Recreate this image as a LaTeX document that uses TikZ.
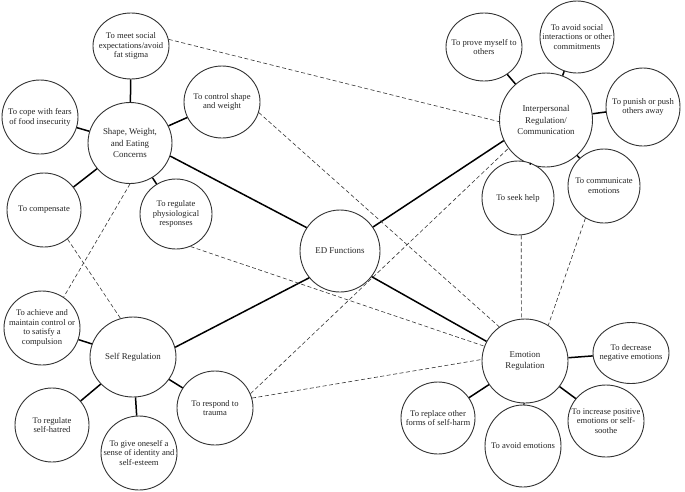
\documentclass[tikz,border=0pt]{standalone}
\usepackage{fontspec}
\setmainfont{Liberation Serif}
\usetikzlibrary{shapes.geometric}
\begin{document}
\begin{tikzpicture}[x=1pt,y=-1pt,
  bub/.style={ellipse, draw=black!80, line width=0.9pt, inner sep=0pt, fill=white},
  lbl/.style={font=\fontsize{8.6}{9.8}\selectfont, align=center, inner sep=0pt, text=black!85},
  hlbl/.style={font=\fontsize{8.9}{11.2}\selectfont, align=center, inner sep=0pt, text=black!85},
  spoke/.style={line width=1.5pt, black},
  dsh/.style={line width=0.6pt, black!80, dash pattern=on 4pt off 2.5pt}]
\useasboundingbox (0,0) rectangle (685,491);
% hubs
\node[bub, minimum width=84, minimum height=81, label={[hlbl]center:{Shape, Weight,\\and Eating\\Concerns}}] (SWE) at (130,143) {};
\node[bub, minimum width=80, minimum height=82, label={[hlbl]center:{ED Functions}}] (ED) at (340,251) {};
\node[bub, minimum width=93, minimum height=94, label={[hlbl]center:{Interpersonal\\Regulation/\\Communication}}] (IRC) at (546,120) {};
\node[bub, minimum width=86, minimum height=84, label={[hlbl]center:{Emotion\\Regulation}}] (ER) at (525,361) {};
\node[bub, minimum width=86, minimum height=80, label={[hlbl]center:{Self Regulation}}] (SR) at (133,357) {};
% leaves SWE
\node[bub, minimum width=76, minimum height=66, label={[lbl]center:{To meet social\\expectations/avoid\\fat stigma}}] (meet) at (131,46) {};
\node[bub, minimum width=76, minimum height=74, label={[lbl]center:{To cope with fears\\of food insecurity}}] (cope) at (40,117) {};
\node[bub, minimum width=76, minimum height=72, label={[lbl]center:{To control shape\\and weight}}] (control) at (222,102) {};
\node[bub, minimum width=74, minimum height=74, label={[lbl]center:{To compensate}}] (comp) at (44,210) {};
\node[bub, minimum width=72, minimum height=70, label={[lbl]center:{To regulate\\physiological\\responses}}] (physio) at (176,214) {};
% leaves IRC
\node[bub, minimum width=76, minimum height=68, label={[lbl]center:{To prove myself to\\others}}] (prove) at (484,47) {};
\node[bub, minimum width=74, minimum height=72, label={[lbl]center:{To avoid social\\interactions or other\\commitments}}] (avoidsoc) at (577,37) {};
\node[bub, minimum width=74, minimum height=78, label={[lbl]center:{To punish or push\\others away}}] (punish) at (643,107) {};
\node[bub, minimum width=72, minimum height=74, label={[lbl]center:{To seek help}}] (seek) at (518,198) {};
\node[bub, minimum width=72, minimum height=74, label={[lbl]center:{To communicate\\emotions}}] (commun) at (604,186) {};
% leaves ER
\node[bub, minimum width=76, minimum height=61, label={[lbl]center:{To decrease\\negative emotions}}] (decr) at (631,353) {};
\node[bub, minimum width=76, minimum height=72, label={[lbl]center:{To increase positive\\emotions or self-\\soothe}}] (incr) at (606,421) {};
\node[bub, minimum width=76, minimum height=82, label={[lbl]center:{To avoid emotions}}] (avoidem) at (523,446) {};
\node[bub, minimum width=74, minimum height=72, label={[lbl]center:{To replace other\\forms of self-harm}}] (replace) at (438,418) {};
% leaves SR
\node[bub, minimum width=76, minimum height=74, label={[lbl]center:{To achieve and\\maintain control or\\to satisfy a\\compulsion}}] (achieve) at (42,328) {};
\node[bub, minimum width=74, minimum height=74, label={[lbl]center:{To regulate\\self-hatred}}] (hatred) at (52,425) {};
\node[bub, minimum width=76, minimum height=74, label={[lbl]center:{To give oneself a\\sense of identity and\\self-esteem}}] (identity) at (139,453) {};
\node[bub, minimum width=76, minimum height=74, label={[lbl]center:{To respond to\\trauma}}] (trauma) at (215,408) {};
% main solid connectors
\draw[spoke] (SWE.-18) -- (ED.145);
\draw[spoke] (ED.36) -- (IRC.206);
\draw[spoke] (ED.221) -- (SR.13);
\draw[spoke] (ED.-39) -- (ER.153);
% spokes
\foreach \a/\b in {SWE/meet, SWE/cope, SWE/control, SWE/comp, SWE/physio,
  IRC/prove, IRC/avoidsoc, IRC/punish, IRC/seek, IRC/commun,
  ER/decr, ER/incr, ER/avoidem, ER/replace,
  SR/achieve, SR/hatred, SR/identity, SR/trauma}
  \draw[spoke] (\a) -- (\b);
% dashed cross links
\draw[dsh] (meet.10) -- (IRC.182);
\draw[dsh] (control.-16) -- (ER.127);
\draw[dsh] (SWE.-90) -- (achieve.55);
\draw[dsh] (comp.-51) -- (SR.108);
\draw[dsh] (physio.-66) -- (ER.160);
\draw[dsh] (trauma.22) -- (IRC.217);
\draw[dsh] (trauma.15) -- (ER.178);
\draw[dsh] (seek.-85) -- (ER.95);
\draw[dsh] (commun.-120) -- (ER.57);
\end{tikzpicture}
\end{document}
